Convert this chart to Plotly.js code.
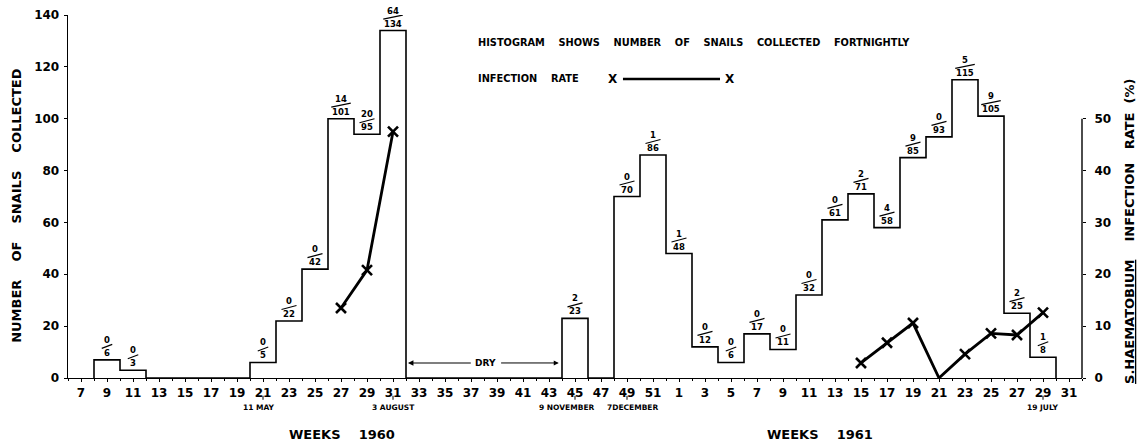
<!DOCTYPE html>
<html><head><meta charset="utf-8">
<script src="https://cdn.plot.ly/plotly-3.0.1.min.js"></script>
<style>html,body{margin:0;padding:0;background:#fff}#chart{width:1143px;height:442px}</style>
</head><body><div id="chart"></div>
<script>
// ---- DATA ----
// Histogram bins (2-week bins, labelled by their middle week)
const binWeeks1960   = [9, 11, 21, 23, 25, 27, 29, 31, 45, 49, 51];
const binHeights1960 = [7, 3, 6, 22, 42, 100, 94, 134, 23, 70, 86];
const infected1960   = ['0', '0', '0', '0', '0', '14', '20', '64', '2', '0', '1'];
const totals1960     = ['6', '3', '5', '22', '42', '101', '95', '134', '23', '70', '86'];

const binWeeks1961   = [1, 3, 5, 7, 9, 11, 13, 15, 17, 19, 21, 23, 25, 27, 29];
const binHeights1961 = [48, 12, 6, 17, 11, 32, 61, 71, 58, 85, 93, 115, 101, 25, 8];
const infected1961   = ['1', '0', '0', '0', '0', '0', '0', '2', '4', '9', '0', '5', '9', '2', '1'];
const totals1961     = ['48', '12', '6', '17', '11', '32', '61', '71', '58', '85', '93', '115', '105', '25', '8'];

// S. haematobium infection rate (%)
const rateWeeks1960 = [27, 29, 31];
const rate1960      = [13.5, 20.8, 47.5];
const rateWeeks1961 = [15, 17, 19, 21, 23, 25, 27, 29];
const rate1961      = [2.9, 6.8, 10.6, 0, 4.6, 8.6, 8.3, 12.6];
const rateMarked1961 = [true, true, true, false, true, true, true, true];

// Tick labels
const tickWeeks1960 = [7, 9, 11, 13, 15, 17, 19, 21, 23, 25, 27, 29, 31, 33, 35, 37, 39, 41, 43, 45, 47, 49, 51];
const tickWeeks1961 = [1, 3, 5, 7, 9, 11, 13, 15, 17, 19, 21, 23, 25, 27, 29, 31];
const rightTicks = [0, 10, 20, 30, 40, 50];

// Date notes under the axis
const dateLabels = ['11 MAY', '3 AUGUST', '9 NOVEMBER', '7DECEMBER', '19 JULY'];
const dateWeeks  = [21, 31, 45, 49, 29];
const dateYears  = [1960, 1960, 1960, 1960, 1961];
const dateShift  = [-4, 0, -8, 5, 0];

// ---- BUILD ----
const T = (year, w) => year === 1961 ? 52 + w : w;
const FONT = 'DejaVu Sans';
const bold = (size) => ({family: FONT, size: size, color: '#000', weight: 'bold'});

const bins = {};
const labels = [];
binWeeks1960.forEach((w, i) => { bins[T(1960, w)] = binHeights1960[i]; labels.push([T(1960, w), binHeights1960[i], infected1960[i], totals1960[i]]); });
binWeeks1961.forEach((w, i) => { bins[T(1961, w)] = binHeights1961[i]; labels.push([T(1961, w), binHeights1961[i], infected1961[i], totals1961[i]]); });
const firstC = Math.min(...Object.keys(bins).map(Number));
const lastC = Math.max(...Object.keys(bins).map(Number));
const hx = [firstC - 1], hy = [0];
for (let c = firstC; c <= lastC; c += 2) { hx.push(c - 1); hy.push(bins[c] || 0); }
hx.push(lastC + 1); hy.push(0);

const xMarker = (sizes) => ({symbol: 'x-thin', size: sizes, color: '#000', opacity: 1, line: {width: 2.6, color: '#000'}});

const traces = [
  {x: hx, y: hy, type: 'scatter', mode: 'lines', line: {shape: 'hv', color: '#000', width: 1.6}, hoverinfo: 'skip', showlegend: false, cliponaxis: false},
  {x: rateWeeks1960.map(w => T(1960, w)), y: rate1960, yaxis: 'y2', type: 'scatter', mode: 'lines+markers',
   line: {color: '#000', width: 2.8}, marker: xMarker(10), showlegend: false},
  {x: rateWeeks1961.map(w => T(1961, w)), y: rate1961, yaxis: 'y2', type: 'scatter', mode: 'lines+markers',
   line: {color: '#000', width: 2.8}, marker: xMarker(rateMarked1961.map(m => m ? 10 : 0)), showlegend: false}
];

const annotations = [];
const shapes = [];

// fraction labels
labels.forEach(([t, h, num, den]) => {
  annotations.push({x: t, y: h, xref: 'x', yref: 'y', text: num, showarrow: false, yshift: 20, font: bold(8.5), xanchor: 'center', yanchor: 'middle'});
  annotations.push({x: t, y: h, xref: 'x', yref: 'y', text: den, showarrow: false, yshift: 7, font: bold(8.5), xanchor: 'center', yanchor: 'middle'});
  const L = 6 + 4.5 * Math.max(num.length, den.length);
  shapes.push({type: 'line', xref: 'x', yref: 'y', xsizemode: 'pixel', ysizemode: 'pixel', xanchor: t, yanchor: h,
               x0: -L / 2, x1: L / 2, y0: 11.5, y1: 15.5, line: {color: '#000', width: 1.2}});
});

// date notes
dateLabels.forEach((lab, i) => {
  const t = T(dateYears[i], dateWeeks[i]);
  annotations.push({x: t, y: -0.08, xref: 'x', yref: 'paper', text: lab, showarrow: false, font: bold(7.5), xshift: dateShift[i], xanchor: 'center', yanchor: 'middle'});
  shapes.push({type: 'line', xref: 'x', yref: 'paper', x0: t, x1: t, y0: -0.049, y1: -0.06, line: {color: '#000', width: 1}});
});

// DRY arrows
annotations.push({x: 38.1, y: 5.8, xref: 'x', yref: 'y', text: 'DRY', showarrow: false, font: bold(9)});
annotations.push({x: 32.15, y: 5.8, ax: 37.1, ay: 5.8, xref: 'x', yref: 'y', axref: 'x', ayref: 'y', text: '', showarrow: true, arrowhead: 2, arrowsize: 1, arrowwidth: 1.1, arrowcolor: '#000', standoff: 0, startstandoff: 0});
annotations.push({x: 43.75, y: 5.8, ax: 39.2, ay: 5.8, xref: 'x', yref: 'y', axref: 'x', ayref: 'y', text: '', showarrow: true, arrowhead: 2, arrowsize: 1, arrowwidth: 1, arrowcolor: '#000', standoff: 0, startstandoff: 0});

// axis titles
const sp = '\u00A0\u00A0\u00A0\u00A0';
annotations.push({x: -0.0503, y: 0.477, xref: 'paper', yref: 'paper', text: ['NUMBER', 'OF', 'SNAILS', 'COLLECTED'].join(sp), textangle: -90, showarrow: false, font: bold(13), xanchor: 'center', yanchor: 'middle'});
annotations.push({x: 1.0473, y: 0.405, xref: 'paper', yref: 'paper', text: '<u>S.HAEMATOBIUM</u>' + sp + 'INFECTION' + '\u00A0\u00A0\u00A0' + 'RATE' + '\u00A0\u00A0' + '(%)', textangle: -90, showarrow: false, font: bold(13), xanchor: 'center', yanchor: 'middle'});
annotations.push({x: 0.2702, y: -0.157, xref: 'paper', yref: 'paper', text: 'WEEKS' + sp + '1960', showarrow: false, font: bold(13), xanchor: 'center', yanchor: 'middle'});
annotations.push({x: 0.7416, y: -0.157, xref: 'paper', yref: 'paper', text: 'WEEKS' + sp + '1961', showarrow: false, font: bold(13), xanchor: 'center', yanchor: 'middle'});

// legend text
annotations.push({x: 0.4024, y: 0.923, xref: 'paper', yref: 'paper', text: ['HISTOGRAM', 'SHOWS', 'NUMBER', 'OF', 'SNAILS', 'COLLECTED', 'FORTNIGHTLY'].join(sp), showarrow: false, font: bold(9.8), xanchor: 'left', yanchor: 'middle'});
annotations.push({x: 0.4024, y: 0.8237, xref: 'paper', yref: 'paper', text: 'INFECTION' + sp + 'RATE', showarrow: false, font: bold(9.8), xanchor: 'left', yanchor: 'middle'});
annotations.push({x: 0.5375, y: 0.8237, xref: 'paper', yref: 'paper', text: 'X', showarrow: false, font: bold(12), xanchor: 'center', yanchor: 'middle'});
annotations.push({x: 0.6529, y: 0.8237, xref: 'paper', yref: 'paper', text: 'X', showarrow: false, font: bold(12), xanchor: 'center', yanchor: 'middle'});
shapes.push({type: 'line', xref: 'paper', yref: 'paper', x0: 0.5473, x1: 0.643, y0: 0.8237, y1: 0.8237, line: {color: '#000', width: 2.5}});

// right axis line (0-50 only)
shapes.push({type: 'line', xref: 'paper', yref: 'y2', x0: 1, x1: 1, y0: 0, y1: 50, line: {color: '#000', width: 1.4}});

const tickvals = tickWeeks1960.map(w => T(1960, w)).concat(tickWeeks1961.map(w => T(1961, w)));
const ticktext = tickWeeks1960.map(String).concat(tickWeeks1961.map(String));

const layout = {
  width: 1143, height: 442,
  margin: {l: 68, r: 61, t: 15, b: 64},
  paper_bgcolor: '#fff', plot_bgcolor: '#fff',
  showlegend: false,
  xaxis: {range: [6, 84], tickmode: 'array', tickvals: tickvals, ticktext: ticktext, ticks: 'outside', ticklen: 3, tickcolor: '#000',
          showline: true, linecolor: '#000', linewidth: 1.4, showgrid: false, zeroline: false, tickfont: bold(12), tickangle: 0,
          minor: {tickmode: 'linear', tick0: 6, dtick: 1, ticks: 'outside', ticklen: 2, tickcolor: '#000', showgrid: false}},
  yaxis: {range: [0, 140], dtick: 20, ticks: 'outside', ticklen: 3, tickcolor: '#000', showline: true, linecolor: '#000', linewidth: 1.4,
          showgrid: false, zeroline: false, tickfont: bold(12), ticklabelstandoff: 2},
  yaxis2: {range: [0, 70], overlaying: 'y', side: 'right', tickmode: 'array', tickvals: rightTicks, ticks: 'outside', ticklen: 3, tickcolor: '#000',
           showline: false, showgrid: false, zeroline: false, tickfont: bold(12), ticklabelstandoff: 6},
  annotations: annotations,
  shapes: shapes
};

Plotly.newPlot('chart', traces, layout, {displayModeBar: false, staticPlot: true});
</script>
</body></html>
